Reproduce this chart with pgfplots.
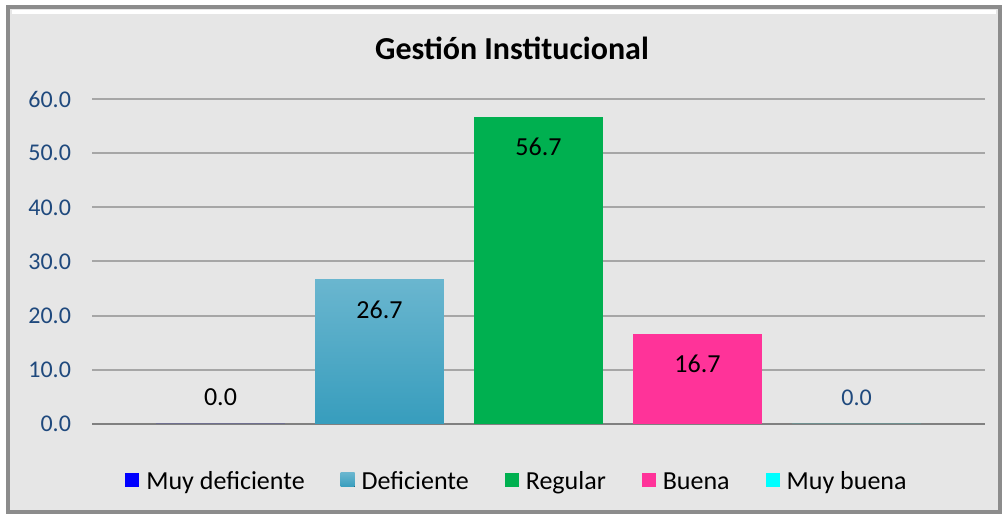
\documentclass[border=0pt]{standalone}
\usepackage{fontspec}
\setmainfont{Carlito}
\usepackage{pgfplots}
\pgfplotsset{compat=1.18}
\definecolor{tickblue}{RGB}{31,73,125}
\definecolor{mdef}{RGB}{0,0,255}
\definecolor{defTop}{RGB}{106,182,207}
\definecolor{defMid}{RGB}{75,176,206}
\definecolor{defBot}{RGB}{55,157,189}
\definecolor{regular}{RGB}{0,176,80}
\definecolor{buena}{RGB}{255,51,153}
\definecolor{mbuena}{RGB}{0,255,255}
\definecolor{panel}{RGB}{230,230,230}
\definecolor{framegray}{RGB}{140,140,140}
\definecolor{gridgray}{RGB}{166,166,166}

\begin{document}
\begin{tikzpicture}
% 1 px of the reference = 0.5pt
\useasboundingbox (0,0) rectangle (502pt,258.5pt);
\fill[white] (0,0) rectangle (502pt,258.5pt);
\fill[panel] (4pt,2.5pt) rectangle (500pt,255pt);
\draw[white, line width=2pt] (6pt,252.5pt) -- (498pt,252.5pt);
\draw[framegray!80!black, line width=1.2pt] (5pt,2pt) -- (500.5pt,2pt) -- (500.5pt,254pt);
\draw[framegray, line width=1.6pt] (4pt,2.5pt) rectangle (500pt,255pt);

\node[font=\fontsize{16}{18}\selectfont\bfseries] at (256pt,234.5pt) {Gestión Institucional};

\begin{axis}[
  at={(46pt,46.5pt)}, anchor=south west,
  scale only axis,
  width=446.5pt, height=162.5pt,
  xmin=-2.808, xmax=2.808,
  ymin=0, ymax=60,
  xtick=\empty,
  ytick={0,10,20,30,40,50,60},
  yticklabel style={font=\fontsize{12}{14}\selectfont, text=tickblue},
  /pgf/number format/.cd, fixed, zerofill, precision=1, assume math mode=true,
  /pgfplots/.cd,
  yticklabel={\pgfmathprintnumber{\tick}},
  major tick length=0pt,
  yticklabel shift=7pt,
  axis x line*=bottom, axis y line*=left,
  y axis line style={draw=none},
  x axis line style={draw=gray, line width=1pt},
  ymajorgrids, grid style={gridgray, line width=1pt},
  legend columns=5,
  legend style={at={(0.477,-0.187)}, anchor=center, draw=none, fill=none,
    font=\fontsize{13}{15}\selectfont,
    nodes={text height=0.72em, text depth=0.22em},
    /tikz/every even column/.append style={column sep=16pt},
    /tikz/every odd column/.append style={column sep=1.5pt}},
  legend image code/.code={\fill[#1] (0pt,-1.1pt) rectangle (7pt,6.1pt);},
  legend cell align=left,
  every node near coord/.append style={font=\fontsize{13}{15}\selectfont, anchor=center},
]
\addplot[ybar, bar shift=0pt, bar width=0.811, fill=mdef, draw=none,
  point meta=y, nodes near coords={\pgfmathprintnumber[fixed,zerofill,precision=1]{\pgfplotspointmeta}},
  nodes near coords style={yshift=13.5pt, text=black}]
  coordinates {(-2,0)};
\addlegendentry{Muy deficiente}
\addplot[ybar, bar shift=0pt, bar width=0.811, draw=none,
  top color=defTop, middle color=defMid, bottom color=defBot,
  point meta=y, nodes near coords={\pgfmathprintnumber[fixed,zerofill,precision=1]{\pgfplotspointmeta}},
  nodes near coords style={yshift=-15pt, text=black}]
  coordinates {(-1,26.7)};
\addlegendentry{Deficiente}
\addplot[ybar, bar shift=0pt, bar width=0.811, fill=regular, draw=none,
  point meta=y, nodes near coords={\pgfmathprintnumber[fixed,zerofill,precision=1]{\pgfplotspointmeta}},
  nodes near coords style={yshift=-15pt, text=black}]
  coordinates {(0,56.7)};
\addlegendentry{Regular}
\addplot[ybar, bar shift=0pt, bar width=0.811, fill=buena, draw=none,
  point meta=y, nodes near coords={\pgfmathprintnumber[fixed,zerofill,precision=1]{\pgfplotspointmeta}},
  nodes near coords style={yshift=-15pt, text=black}]
  coordinates {(1,16.7)};
\addlegendentry{Buena}
\addplot[ybar, bar shift=0pt, bar width=0.811, fill=mbuena, draw=none,
  point meta=y, nodes near coords={\pgfmathprintnumber[fixed,zerofill,precision=1]{\pgfplotspointmeta}},
  nodes near coords style={yshift=13pt, text=tickblue, font=\fontsize{12}{14}\selectfont}]
  coordinates {(2,0)};
\addlegendentry{Muy buena}
\end{axis}
\end{tikzpicture}
\end{document}
